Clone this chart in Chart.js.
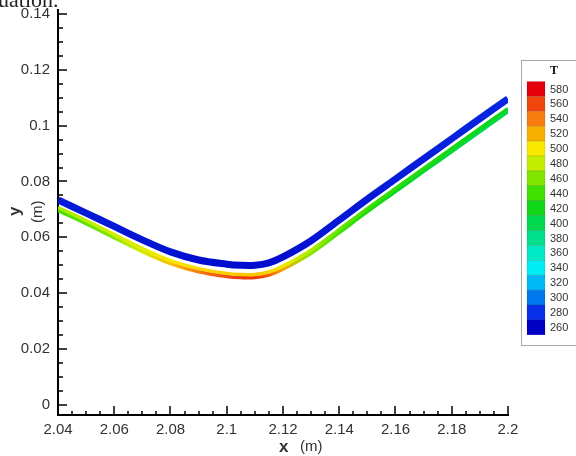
<!DOCTYPE html>
<html>
<head>
<meta charset="utf-8">
<script src="https://cdn.jsdelivr.net/npm/chart.js@4/dist/chart.umd.min.js"></script>
<style>
  html, body { margin: 0; padding: 0; background: #fff; }
  #wrap { width: 576px; height: 456px; position: relative; }
</style>
</head>
<body>
<div id="wrap"><canvas id="profile-chart"></canvas></div>
<script>
// x positions along the wall (m)
const xValues = [2.04, 2.05, 2.06, 2.07, 2.08, 2.09, 2.10, 2.105, 2.11, 2.115, 2.12, 2.13, 2.14, 2.15, 2.16, 2.17, 2.18, 2.19, 2.20];

// outer (cold) layer and the two sub-layers of the hot layer, y in m
const coldY      = [0.0734, 0.0687, 0.0639, 0.0591, 0.0548, 0.0519, 0.0504, 0.0500, 0.0500, 0.0509, 0.0530, 0.0588, 0.0662, 0.0737, 0.0809, 0.0881, 0.0953, 0.1025, 0.1096];
const hotTopY    = [0.0707, 0.0660, 0.0610, 0.0560, 0.0517, 0.0488, 0.0471, 0.0467, 0.0467, 0.0476, 0.0497, 0.0554, 0.0628, 0.0703, 0.0775, 0.0847, 0.0918, 0.0990, 0.1061];
const hotBottomY = [0.0696, 0.0649, 0.0599, 0.0549, 0.0506, 0.0477, 0.0460, 0.0456, 0.0456, 0.0465, 0.0486, 0.0543, 0.0617, 0.0692, 0.0764, 0.0836, 0.0907, 0.0979, 0.1050];

// temperature along each layer
const coldT      = [272, 270, 270, 268, 268, 266, 266, 266, 266, 266, 266, 268, 270, 270, 272, 272, 274, 274, 276];
const hotTopT    = [470, 478, 485, 492, 500, 505, 510, 512, 512, 508, 495, 472, 452, 440, 432, 428, 424, 420, 418];
const hotBottomT = [440, 448, 462, 485, 515, 540, 558, 563, 565, 552, 525, 462, 440, 425, 415, 410, 405, 402, 400];

// axis ticks
const xTicks = [2.04, 2.06, 2.08, 2.10, 2.12, 2.14, 2.16, 2.18, 2.20];
const xTickLabels = ['2.04', '2.06', '2.08', '2.1', '2.12', '2.14', '2.16', '2.18', '2.2'];
const yTicks = [0, 0.02, 0.04, 0.06, 0.08, 0.10, 0.12, 0.14];
const yTickLabels = ['0', '0.02', '0.04', '0.06', '0.08', '0.1', '0.12', '0.14'];

// contour levels (legend)
const levelT = [260, 280, 300, 320, 340, 360, 380, 400, 420, 440, 460, 480, 500, 520, 540, 560, 580];
const levelRGB = [
  [0, 0, 196], [8, 48, 232], [0, 120, 238], [0, 184, 246], [0, 236, 244], [0, 232, 196],
  [0, 224, 140], [0, 216, 80], [16, 214, 24], [64, 224, 0], [128, 230, 0], [196, 238, 0],
  [250, 232, 0], [248, 176, 0], [246, 124, 16], [240, 70, 14], [228, 0, 10]
];

const FONT = "'Liberation Sans', Arial, sans-serif";

function tempColor(t) {
  if (t <= levelT[0]) return 'rgb(' + levelRGB[0].join(',') + ')';
  for (let i = 1; i < levelT.length; i++) {
    if (t <= levelT[i]) {
      const f = (t - levelT[i - 1]) / (levelT[i] - levelT[i - 1]);
      const a = levelRGB[i - 1], b = levelRGB[i];
      return 'rgb(' + a.map((v, k) => Math.round(v + (b[k] - v) * f)).join(',') + ')';
    }
  }
  return 'rgb(' + levelRGB[levelRGB.length - 1].join(',') + ')';
}

// colour a layer along x from its temperature list
function alongX(chart, temps) {
  const area = chart.chartArea;
  if (!area) return '#0014c8';
  const xs = chart.scales.x;
  const g = chart.ctx.createLinearGradient(area.left, 0, area.right, 0);
  xValues.forEach((x, i) => {
    const p = (xs.getPixelForValue(x) - area.left) / (area.right - area.left);
    g.addColorStop(Math.min(1, Math.max(0, p)), tempColor(temps[i]));
  });
  return g;
}

function layer(label, ys, temps, width) {
  return {
    label: label,
    data: xValues.map((x, i) => ({ x: x, y: ys[i] })),
    temps: temps,
    borderWidth: width,
    borderColor: (c) => alongX(c.chart, c.dataset.temps),
    pointRadius: 0,
    tension: 0.35,
    borderCapStyle: 'butt',
    fill: false
  };
}

// inward major/minor tick marks, drawn below the data
const tickMarks = {
  id: 'tickMarks',
  beforeDatasetsDraw(chart) {
    const { ctx, chartArea, scales } = chart;
    ctx.save();
    ctx.strokeStyle = '#000';
    ctx.lineWidth = 1.5;
    ctx.beginPath();
    for (let v = 2.04; v <= 2.2001; v += 0.005) {
      const px = Math.round(scales.x.getPixelForValue(v));
      const major = Math.abs(v / 0.02 - Math.round(v / 0.02)) < 1e-6;
      ctx.moveTo(px, chartArea.bottom);
      ctx.lineTo(px, chartArea.bottom - (major ? 9 : 4));
    }
    for (let v = 0; v <= 0.1401; v += 0.005) {
      const py = Math.round(scales.y.getPixelForValue(v));
      const major = Math.abs(v / 0.02 - Math.round(v / 0.02)) < 1e-6;
      ctx.moveTo(chartArea.left, py);
      ctx.lineTo(chartArea.left + (major ? 9 : 5), py);
    }
    ctx.stroke();
    ctx.restore();
  }
};

// axis titles, colour legend and cropped caption
const decorations = {
  id: 'decorations',
  afterDraw(chart) {
    const { ctx } = chart;
    ctx.save();
    ctx.fillStyle = '#222';
    ctx.textBaseline = 'alphabetic';

    // cropped caption at the top
    ctx.font = "22px 'Liberation Serif', 'Times New Roman', serif";
    ctx.textAlign = 'left';
    ctx.fillText('uation.', -2, 7);

    // x title
    ctx.fillStyle = '#333';
    ctx.font = 'bold 17px ' + FONT;
    ctx.fillText('x', 279, 452);
    ctx.font = '15px ' + FONT;
    ctx.fillText('(m)', 300, 451);

    // y title
    ctx.save();
    ctx.translate(20, 216);
    ctx.rotate(-Math.PI / 2);
    ctx.font = 'bold 17px ' + FONT;
    ctx.fillText('y', 0, 0);
    ctx.restore();
    ctx.save();
    ctx.translate(42, 223);
    ctx.rotate(-Math.PI / 2);
    ctx.font = '15px ' + FONT;
    ctx.fillText('(m)', 0, 0);
    ctx.restore();

    // legend box
    ctx.fillStyle = '#fff';
    ctx.fillRect(521.5, 60.5, 70, 285);
    ctx.strokeStyle = '#a8a8a8';
    ctx.lineWidth = 1;
    ctx.strokeRect(521.5, 60.5, 70, 285);

    ctx.fillStyle = '#111';
    ctx.font = "bold 12px 'Liberation Serif', 'Times New Roman', serif";
    ctx.textAlign = 'center';
    ctx.fillText('T', 554, 74);

    const rowH = 14.9;
    const firstY = 89;
    ctx.font = '11px ' + FONT;
    ctx.textAlign = 'left';
    ctx.textBaseline = 'middle';
    for (let r = 0; r < levelT.length; r++) {
      const idx = levelT.length - 1 - r;
      const cy = firstY + r * rowH;
      ctx.fillStyle = 'rgb(' + levelRGB[idx].join(',') + ')';
      ctx.fillRect(527, cy - rowH / 2, 18, rowH);
      ctx.strokeStyle = 'rgba(0,0,0,0.18)';
      ctx.lineWidth = 0.6;
      ctx.strokeRect(527, cy - rowH / 2, 18, rowH);
      ctx.fillStyle = '#333';
      ctx.fillText(String(levelT[idx]), 550, cy + 0.5);
    }
    ctx.restore();
  }
};

const ctx = document.getElementById('profile-chart').getContext('2d');
new Chart(ctx, {
  type: 'line',
  data: {
    datasets: [
      layer('T outer', coldY, coldT, 7),
      layer('T inner top', hotTopY, hotTopT, 3.5),
      layer('T inner bottom', hotBottomY, hotBottomT, 3.5)
    ]
  },
  options: {
    responsive: true,
    maintainAspectRatio: false,
    animation: false,
    devicePixelRatio: 1,
    layout: { padding: { top: 10, right: 68, left: 0, bottom: 0 } },
    plugins: { legend: { display: false }, tooltip: { enabled: false } },
    scales: {
      x: {
        type: 'linear',
        min: 2.04,
        max: 2.2,
        afterBuildTicks: (s) => { s.ticks = xTicks.map(v => ({ value: v })); },
        afterFit: (s) => { s.height = 41; },
        grid: { display: false, drawTicks: false },
        border: { display: true, color: '#000', width: 2 },
        ticks: {
          autoSkip: false,
          maxRotation: 0,
          padding: 6,
          color: '#333',
          font: { family: FONT, size: 15 },
          callback: (v, i) => xTickLabels[i]
        }
      },
      y: {
        type: 'linear',
        min: -0.0036,
        max: 0.1414,
        afterBuildTicks: (s) => { s.ticks = yTicks.map(v => ({ value: v })); },
        afterFit: (s) => { s.width = 58; s.paddingTop = 0; s.paddingBottom = 0; },
        grid: { display: false, drawTicks: false },
        border: { display: true, color: '#000', width: 2 },
        ticks: {
          autoSkip: false,
          padding: 8,
          color: '#333',
          font: { family: FONT, size: 15 },
          callback: (v, i) => yTickLabels[i]
        }
      }
    }
  },
  plugins: [tickMarks, decorations]
});
</script>
</body>
</html>
